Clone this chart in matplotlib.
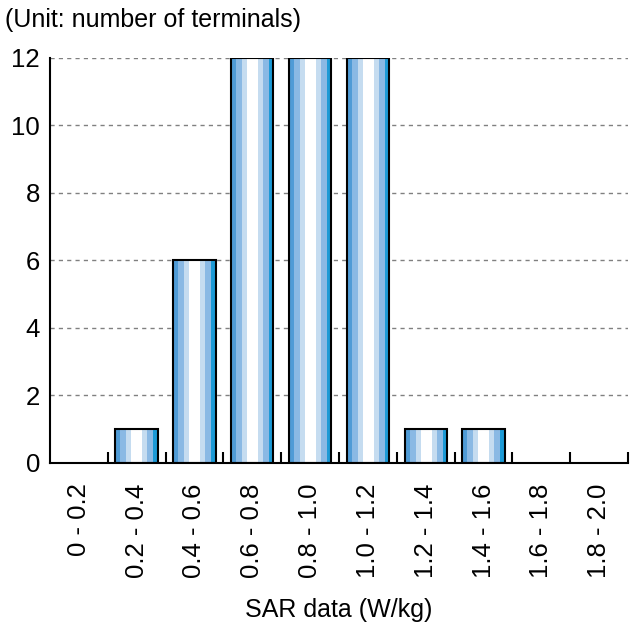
import numpy as np
import matplotlib
matplotlib.use("Agg")
import matplotlib.pyplot as plt
from matplotlib.colors import to_rgb

plt.rcParams['font.family'] = ['Liberation Sans', 'DejaVu Sans']

categories = ["0 - 0.2", "0.2 - 0.4", "0.4 - 0.6", "0.6 - 0.8", "0.8 - 1.0",
              "1.0 - 1.2", "1.2 - 1.4", "1.4 - 1.6", "1.6 - 1.8", "1.8 - 2.0"]
counts = [0, 1, 6, 12, 12, 12, 1, 1, 0, 0]

# stripes across each bar, left to right
stripes = ['#4f9bd6', '#8ab9e4', '#c5dcf0', '#ffffff', '#ffffff',
           '#c5dcf0', '#8ab9e4', '#1c9ad6']

fig = plt.figure(figsize=(6.39, 6.22), dpi=100)
ax = fig.add_axes([0.078, 0.256, 0.905, 0.651])

x = np.arange(len(categories))
w = 0.73
img = np.array([[to_rgb(c) for c in stripes]])
for xi, h in zip(x, counts):
    if h <= 0:
        continue
    rect = ax.bar(xi, h, width=w, facecolor='none', edgecolor='black',
                  linewidth=1.5, zorder=3)[0]
    im = ax.imshow(img, extent=(xi - w / 2, xi + w / 2, 0, h), aspect='auto',
                   interpolation='nearest', zorder=2)
    im.set_clip_path(rect)

ax.set_xlim(-0.5, len(categories) - 0.5)
ax.set_ylim(0, 12)

for yv in range(2, 13, 2):
    ax.axhline(yv, color='#808080', linestyle=(0, (3, 3)), linewidth=1.0, zorder=1)

ax.set_yticks(range(0, 13, 2))
ax.tick_params(axis='y', length=0, labelsize=18.5, pad=7)
ax.set_xticks(x)
ax.set_xticklabels(categories, rotation=90, fontsize=18.5, va='top')
ax.set_xticks(x + 0.5, minor=True)
ax.tick_params(axis='x', which='major', length=0, pad=15)
ax.tick_params(axis='x', which='minor', direction='in', length=8, width=1.5)

for s in ['top', 'right']:
    ax.spines[s].set_visible(False)
ax.spines['left'].set_linewidth(1.5)
ax.spines['bottom'].set_linewidth(1.5)

ax.set_xlabel("SAR data (W/kg)", fontsize=18, labelpad=14)
fig.text(0.008, 0.968, "(Unit: number of terminals)", fontsize=18, ha='left', va='center')

fig.savefig("out.png", dpi=100)
